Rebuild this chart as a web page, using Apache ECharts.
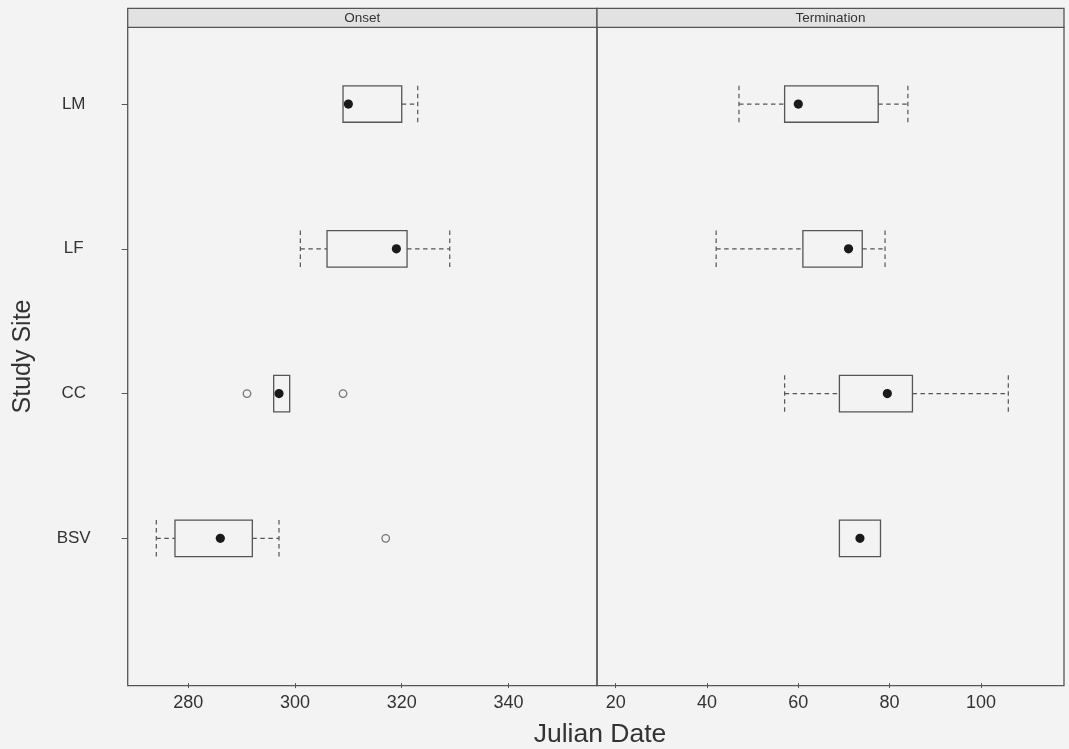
<!DOCTYPE html>
<html>
<head>
<meta charset="utf-8">
<script src="https://cdn.jsdelivr.net/npm/echarts@6/dist/echarts.min.js"></script>
<style>
  html, body { margin: 0; padding: 0; background: #f3f3f3; }
  #chart { width: 1069px; height: 749px; }
</style>
</head>
<body>
<div id="chart"></div>
<script>
// Study sites, bottom to top (y position 1..4)
const sites = ['BSV', 'CC', 'LF', 'LM'];

// Box summaries per site: [lowerWhisker, Q1, median, Q3, upperWhisker]
const onsetStats = [
  [274, 277.5, 286, 292, 297],   // BSV
  [296, 296, 297, 299, 299],     // CC
  [301, 306, 319, 321, 329],     // LF
  [309, 309, 310, 320, 323]      // LM
];
const terminationStats = [
  [69, 69, 73.5, 78, 78],        // BSV
  [57, 69, 79.5, 85, 106],       // CC
  [42, 61, 71, 74, 79],          // LF
  [47, 57, 60, 77.5, 84]         // LM
];

// Outlying observations: [site, value]
const onsetOutliers = [['BSV', 317], ['CC', 291], ['CC', 309]];
const terminationOutliers = [];

// Tick labels on the two date axes
const onsetTicks = [280, 300, 320, 340];
const terminationTicks = [20, 40, 60, 80, 100];

const panelTitles = ['Onset', 'Termination'];

// Panel layout (pixels)
const panelTop = 27.3, panelBottom = 685.7;
const panels = [{ left: 127.7, right: 597 }, { left: 597, right: 1064 }];
const stripTop = 8.3;
const lineColor = '#555';
const textColor = '#333';
const fontFamily = '"Liberation Sans", Arial, Helvetica, sans-serif';

const chart = echarts.init(document.getElementById('chart'), null, { renderer: 'canvas' });

function toBoxData(stats) {
  return stats.map((s, i) => [i + 1].concat(s));
}
function toOutlierData(list) {
  return list.map(o => [o[1], sites.indexOf(o[0]) + 1]);
}

function renderBox(params, api) {
  const pos = api.value(0);
  const lo = api.value(1), q1 = api.value(2), med = api.value(3), q3 = api.value(4), hi = api.value(5);
  const half = api.size([0, 0.126])[1];
  const pLo = api.coord([lo, pos]);
  const pQ1 = api.coord([q1, pos]);
  const pMed = api.coord([med, pos]);
  const pQ3 = api.coord([q3, pos]);
  const pHi = api.coord([hi, pos]);
  const y = pMed[1];
  const dash = { stroke: lineColor, lineWidth: 1.2, lineDash: [4.5, 3.5], fill: null };
  const solid = { stroke: lineColor, lineWidth: 1.3, fill: null };
  const children = [];
  if (lo < q1) {
    children.push({ type: 'line', shape: { x1: pLo[0], y1: y, x2: pQ1[0], y2: y }, style: dash });
    children.push({ type: 'line', shape: { x1: pLo[0], y1: y - half, x2: pLo[0], y2: y + half }, style: dash });
  }
  if (hi > q3) {
    children.push({ type: 'line', shape: { x1: pQ3[0], y1: y, x2: pHi[0], y2: y }, style: dash });
    children.push({ type: 'line', shape: { x1: pHi[0], y1: y - half, x2: pHi[0], y2: y + half }, style: dash });
  }
  children.push({
    type: 'rect',
    shape: { x: pQ1[0], y: y - half, width: pQ3[0] - pQ1[0], height: 2 * half },
    style: solid
  });
  children.push({
    type: 'circle',
    shape: { cx: pMed[0], cy: y, r: 4.6 },
    style: { fill: '#1a1a1a', stroke: null }
  });
  return { type: 'group', children: children };
}

function xAxisFor(idx, min, max, ticks) {
  return {
    type: 'value',
    gridIndex: idx,
    min: min,
    max: max,
    splitLine: { show: false },
    axisLine: { show: false },
    axisTick: { show: true, length: 5, customValues: ticks, lineStyle: { color: lineColor } },
    axisLabel: {
      customValues: ticks, margin: 8, color: textColor, fontSize: 18, fontFamily: fontFamily
    }
  };
}

function yAxisFor(idx, showLabels) {
  const ax = {
    type: 'value',
    gridIndex: idx,
    min: -0.018,
    max: 4.53,
    splitLine: { show: false },
    axisLine: { show: false },
    axisTick: { show: showLabels, length: 6, customValues: [1, 2, 3, 4], lineStyle: { color: lineColor } },
    axisLabel: {
      show: showLabels,
      customValues: [1, 2, 3, 4],
      formatter: v => sites[Math.round(v) - 1] || '',
      align: 'center',
      margin: 54,
      color: textColor,
      fontSize: 17,
      fontFamily: fontFamily
    }
  };
  if (showLabels) {
    ax.name = 'Study Site';
    ax.nameLocation = 'middle';
    ax.nameRotate = 90;
    ax.nameGap = 92;
    ax.nameTextStyle = { color: textColor, fontSize: 25, fontFamily: fontFamily };
  }
  return ax;
}

const grids = panels.map(p => ({
  left: p.left,
  width: p.right - p.left,
  top: panelTop,
  height: panelBottom - panelTop,
  containLabel: false,
  outerBoundsMode: 'none',
  show: true,
  backgroundColor: 'transparent',
  borderColor: lineColor,
  borderWidth: 1.3
}));

const stripGraphics = [];
panels.forEach((p, i) => {
  stripGraphics.push({
    type: 'rect',
    shape: { x: p.left, y: stripTop, width: p.right - p.left, height: panelTop - stripTop },
    style: { fill: '#e2e2e2', stroke: lineColor, lineWidth: 1.3 },
    z: 10
  });
  stripGraphics.push({
    type: 'text',
    x: (p.left + p.right) / 2,
    y: (stripTop + panelTop) / 2,
    style: {
      text: panelTitles[i], fill: textColor, fontSize: 13.5, fontFamily: fontFamily,
      align: 'center', verticalAlign: 'middle'
    },
    z: 11
  });
});
stripGraphics.push({
  type: 'text',
  x: 600,
  y: 735,
  style: {
    text: 'Julian Date', fill: textColor, fontSize: 26.5, fontFamily: fontFamily,
    align: 'center', verticalAlign: 'middle'
  }
});

const outlierStyle = {
  color: 'transparent', borderColor: lineColor, borderWidth: 1.3
};

chart.setOption({
  backgroundColor: '#f3f3f3',
  animation: false,
  grid: grids,
  xAxis: [
    xAxisFor(0, 268.64, 356.6, onsetTicks),
    xAxisFor(1, 15.9, 118.2, terminationTicks)
  ],
  yAxis: [yAxisFor(0, true), yAxisFor(1, false)],
  graphic: stripGraphics,
  series: [
    {
      type: 'custom', name: 'Onset', xAxisIndex: 0, yAxisIndex: 0,
      renderItem: renderBox,
      encode: { x: [1, 2, 3, 4, 5], y: 0 },
      data: toBoxData(onsetStats)
    },
    {
      type: 'custom', name: 'Termination', xAxisIndex: 1, yAxisIndex: 1,
      renderItem: renderBox,
      encode: { x: [1, 2, 3, 4, 5], y: 0 },
      data: toBoxData(terminationStats)
    },
    {
      type: 'scatter', xAxisIndex: 0, yAxisIndex: 0,
      symbol: 'circle', symbolSize: 7.5,
      itemStyle: outlierStyle,
      data: toOutlierData(onsetOutliers)
    },
    {
      type: 'scatter', xAxisIndex: 1, yAxisIndex: 1,
      symbol: 'circle', symbolSize: 7.5,
      itemStyle: outlierStyle,
      data: toOutlierData(terminationOutliers)
    }
  ]
});
</script>
</body>
</html>
